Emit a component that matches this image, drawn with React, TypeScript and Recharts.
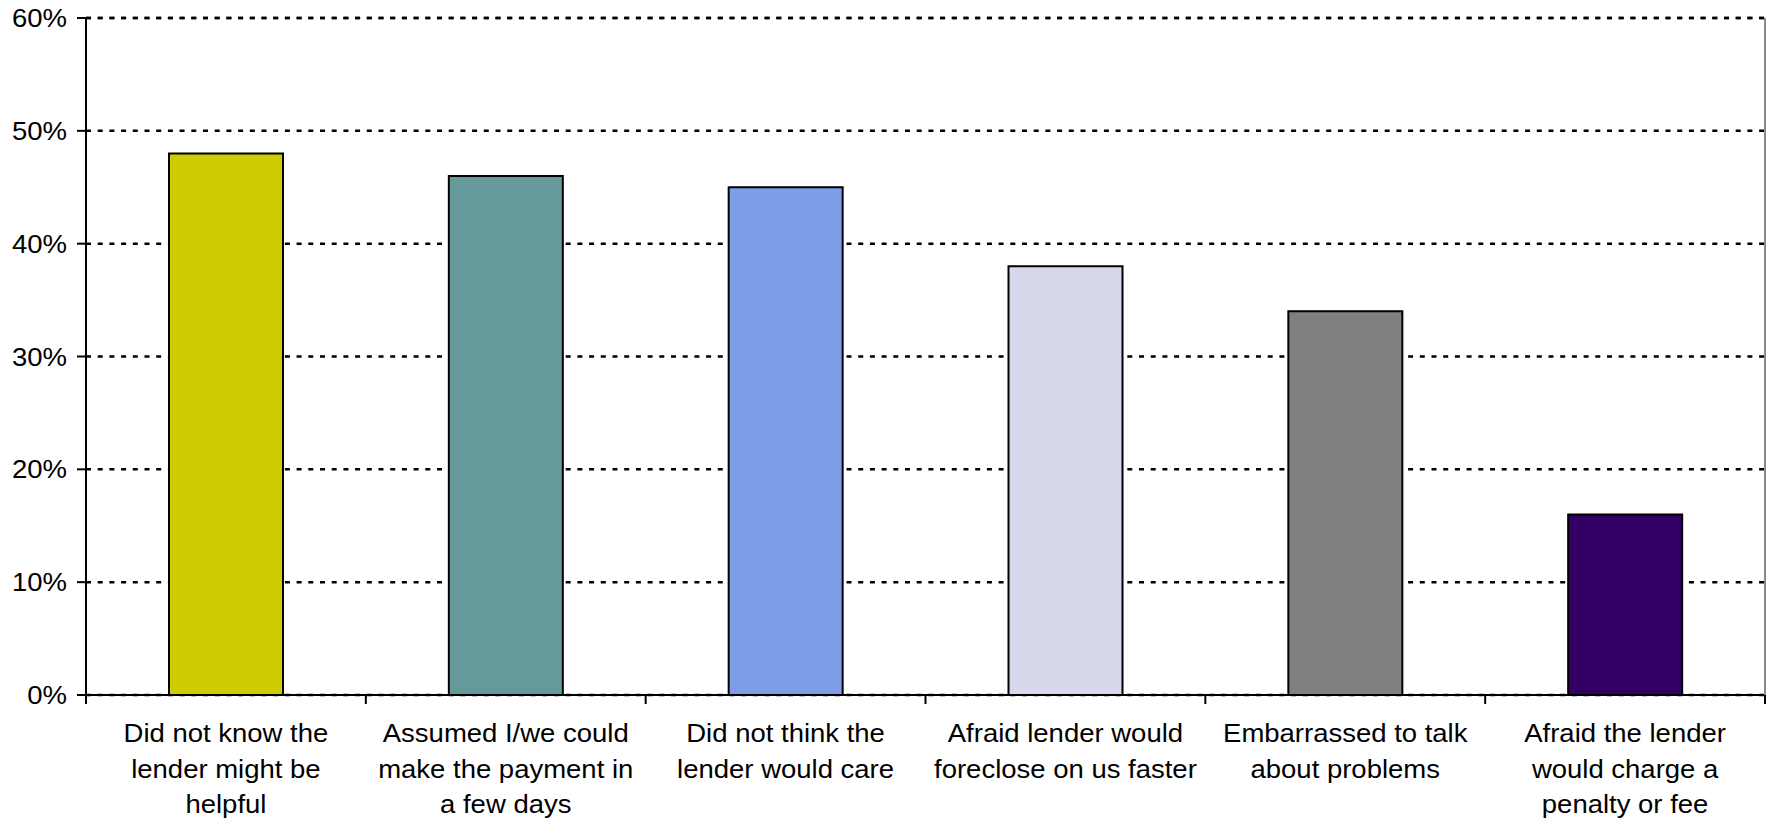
import React from "react";
import { BarChart, Bar, XAxis, YAxis, CartesianGrid, Cell, ReferenceLine } from "recharts";

const categories = [
  "Did not know the\nlender might be\nhelpful",
  "Assumed I/we could\nmake the payment in\na few days",
  "Did not think the\nlender would care",
  "Afraid lender would\nforeclose on us faster",
  "Embarrassed to talk\nabout problems",
  "Afraid the lender\nwould charge a\npenalty or fee",
];
const values = [48, 46, 45, 38, 34, 16];
const colors = ["#CCCC00", "#669999", "#7D9DE7", "#D8D8EC", "#808080", "#330066"];
const yTicks = [0, 10, 20, 30, 40, 50, 60];

const data = categories.map((c, i) => ({ name: c, value: values[i] }));

const W = 1770;
const H = 822;
const LEFT = 86;
const RIGHT_W = 5;
const BAND = (W - LEFT - RIGHT_W) / categories.length;
const FONT = "'Liberation Sans', Arial, sans-serif";
const SX = 1.1;
const FS = 25;
const DASH = "5 6.7";

const XTick = (props: any) => {
  const { x, y, payload, index } = props;
  const lines = String(payload.value).split("\n");
  return (
    <g>
      <line x1={x - BAND / 2} y1={y} x2={x - BAND / 2} y2={y + 9} stroke="#000" strokeWidth={2} />
      {index === categories.length - 1 && (
        <line x1={x + BAND / 2} y1={y} x2={x + BAND / 2} y2={y + 9} stroke="#000" strokeWidth={2} />
      )}
      {lines.map((l, i) => (
        <text
          key={i}
          transform={`translate(${x},${y + 47 + i * 35.5}) scale(${SX},1)`}
          textAnchor="middle"
          fontSize={FS}
          fontFamily={FONT}
          fill="#000"
        >
          {l}
        </text>
      ))}
    </g>
  );
};

const YTick = (props: any) => {
  const { x, y, payload } = props;
  return (
    <text
      transform={`translate(${x},${y}) scale(${SX},1)`}
      textAnchor="end"
      dy="0.36em"
      fontSize={FS}
      fontFamily={FONT}
      fill="#000"
    >
      {`${payload.value}%`}
    </text>
  );
};

export default function App() {
  return (
    <div style={{ position: "absolute", left: 0, top: 0, width: W, height: H, background: "#fff" }}>
      <BarChart width={W} height={H} data={data} margin={{ top: 18, right: 0, bottom: 0, left: 0 }}>
        <CartesianGrid horizontal vertical={false} stroke="#000" strokeWidth={2.5} strokeDasharray={DASH} />
        <XAxis
          dataKey="name"
          interval={0}
          height={127}
          tickLine={false}
          tickSize={0}
          tickMargin={0}
          axisLine={{ stroke: "#000", strokeWidth: 2 }}
          tick={<XTick />}
        />
        <XAxis
          xAxisId="top"
          orientation="top"
          dataKey="name"
          height={0}
          tick={false}
          tickLine={false}
          axisLine={{ stroke: "#8a8a8a", strokeWidth: 2 }}
        />
        <YAxis
          width={LEFT}
          domain={[0, 60]}
          ticks={yTicks}
          interval={0}
          tickSize={9}
          tickMargin={10}
          tickLine={{ stroke: "#000", strokeWidth: 2 }}
          axisLine={{ stroke: "#000", strokeWidth: 2 }}
          tick={<YTick />}
        />
        <YAxis
          yAxisId="r"
          orientation="right"
          width={RIGHT_W}
          domain={[0, 60]}
          tick={false}
          tickLine={false}
          axisLine={{ stroke: "#8a8a8a", strokeWidth: 2 }}
        />
        <ReferenceLine y={60} stroke="#000" strokeWidth={2.5} strokeDasharray={DASH} />
        <Bar dataKey="value" barSize={114} stroke="#000" strokeWidth={2} isAnimationActive={false}>
          {data.map((d, i) => (
            <Cell key={i} fill={colors[i]} />
          ))}
        </Bar>
      </BarChart>
    </div>
  );
}
